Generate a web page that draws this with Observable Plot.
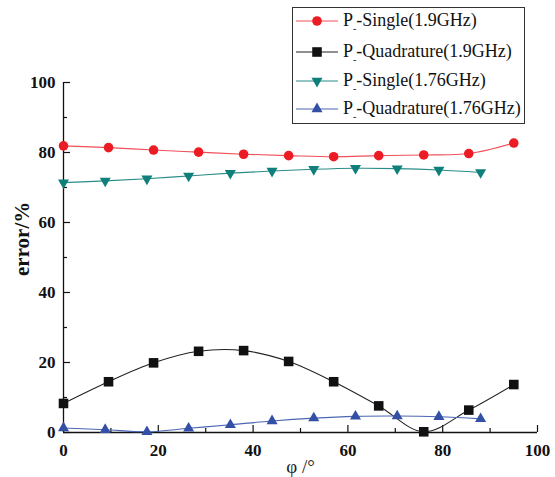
<!DOCTYPE html>
<html>
<head>
<meta charset="utf-8">
<script src="https://cdn.jsdelivr.net/npm/d3@7"></script>
<script src="https://cdn.jsdelivr.net/npm/@observablehq/plot@0.6"></script>
<style>
  html, body { margin: 0; padding: 0; background: #fff; }
  #wrap { position: relative; width: 555px; height: 477px; font-family: "Liberation Serif", "Times New Roman", serif; }
  #wrap svg text { font-family: "Liberation Serif", "Times New Roman", serif; }
  #legend { position: absolute; left: 292px; top: 7px; width: 233px; height: 117px; border: 1px solid #333; background: #fff; box-sizing: border-box; }
  .row { position: absolute; left: 0; height: 24px; display: flex; align-items: center; }
  .row svg { display: block; }
  .lab { font-size: 18px; color: #111; margin-left: 4px; white-space: nowrap; line-height: 24px; }
  .sub { font-size: 10px; position: relative; top: 6px; }
</style>
</head>
<body>
<div id="wrap"></div>
<script>
// ---- data ----
const phiA = [0, 9.5, 19, 28.5, 38, 47.5, 57, 66.5, 76, 85.5, 95];
const singleA = [81.9, 81.4, 80.7, 80.1, 79.5, 79.1, 78.8, 79.1, 79.3, 79.7, 82.7];
const quadA = [8.3, 14.5, 19.9, 23.2, 23.4, 20.3, 14.5, 7.6, 0.2, 6.4, 13.7];
const phiB = [0, 8.8, 17.6, 26.4, 35.2, 44, 52.8, 61.6, 70.4, 79.2, 88];
const singleB = [71.4, 71.9, 72.5, 73.3, 74.1, 74.7, 75.2, 75.5, 75.4, 75.0, 74.3];
const quadB = [1.3, 0.8, 0.2, 1.2, 2.2, 3.3, 4.1, 4.6, 4.7, 4.5, 3.9];

const xTicks = [0, 20, 40, 60, 80, 100];
const xMinor = [10, 30, 50, 70, 90];
const yTicks = [0, 20, 40, 60, 80, 100];
const yMinor = [10, 30, 50, 70, 90];

const seriesNames = [
  "-Single(1.9GHz)",
  "-Quadrature(1.9GHz)",
  "-Single(1.76GHz)",
  "-Quadrature(1.76GHz)"
];
const colors = ["#ec1c24", "#111111", "#0e7f7a", "#3350a6"];
const lineColors = ["#f0505a", "#222222", "#2a8c88", "#4a66b4"];
const symbols = ["circle", "square", "triangle", "triangle"];
const rotations = [0, 0, 180, 0];
const radii = [4.8, 5.4, 4.1, 4.1];

const series = [
  phiA.map((x, i) => ({x, y: singleA[i]})),
  phiA.map((x, i) => ({x, y: quadA[i]})),
  phiB.map((x, i) => ({x, y: singleB[i]})),
  phiB.map((x, i) => ({x, y: quadB[i]}))
];

const font = '"Liberation Serif", "Times New Roman", serif';
const W = 555, H = 477, ML = 63, MR = 18, MT = 82, MB = 45;
const FW = W - ML - MR, FH = H - MT - MB;

const marks = [
  Plot.ruleX([0], {stroke: "#111", strokeWidth: 1.3}),
  Plot.ruleY([0], {stroke: "#111", strokeWidth: 1.3}),
  // inward tick marks
  Plot.tickY(yTicks, {y: d => d, insetRight: FW - 7, stroke: "#111", strokeWidth: 1.2}),
  Plot.tickY(yMinor, {y: d => d, insetRight: FW - 4, stroke: "#111", strokeWidth: 1.2}),
  Plot.tickX(xTicks, {x: d => d, insetTop: FH - 7, stroke: "#111", strokeWidth: 1.2}),
  Plot.tickX(xMinor, {x: d => d, insetTop: FH - 4, stroke: "#111", strokeWidth: 1.2}),
  Plot.axisY({ticks: yTicks, tickSize: 0, tickPadding: 8, fontSize: 17, fontWeight: "bold", fontFamily: font, label: null, tickFormat: d => d, fill: "#111"}),
  Plot.axisX({ticks: xTicks, tickSize: 0, tickPadding: 11, fontSize: 17, fontWeight: "bold", fontFamily: font, label: null, tickFormat: d => d, fill: "#111"}),
  Plot.text(["error/%"], {frameAnchor: "left", rotate: -90, dx: -41.5, dy: 18.5, fontSize: 21, fontWeight: "bold", fontFamily: font, fill: "#111"}),
  Plot.text(["φ /°"], {frameAnchor: "bottom", lineAnchor: "middle", dy: 34, fontSize: 19, fontFamily: font, fill: "#222"})
];
series.forEach((data, k) => {
  marks.push(Plot.line(data, {x: "x", y: "y", curve: "catmull-rom", stroke: lineColors[k], strokeWidth: 1.1}));
});
series.forEach((data, k) => {
  marks.push(Plot.dot(data, {x: "x", y: "y", symbol: symbols[k], r: radii[k], rotate: rotations[k], fill: colors[k], stroke: "none"}));
});

const chart = Plot.plot({
  width: W,
  height: H,
  marginLeft: ML,
  marginRight: MR,
  marginTop: MT,
  marginBottom: MB,
  x: {domain: [0, 100]},
  y: {domain: [0, 100]},
  style: {fontFamily: font, background: "white", color: "#111"},
  marks
});
const wrap = document.getElementById("wrap");
wrap.appendChild(chart);

// ---- legend ----
const legend = document.createElement("div");
legend.id = "legend";
const rowCenters = [13, 44, 73, 101];
const symMap = {circle: d3.symbolCircle, square: d3.symbolSquare, triangle: d3.symbolTriangle};
seriesNames.forEach((name, k) => {
  const row = document.createElement("div");
  row.className = "row";
  row.style.top = (rowCenters[k] - 12) + "px";
  const svg = d3.create("svg").attr("width", 46).attr("height", 24);
  svg.append("line").attr("x1", 3).attr("x2", 45).attr("y1", 12).attr("y2", 12)
    .attr("stroke", lineColors[k]).attr("stroke-width", 1.2);
  const r = radii[k];
  svg.append("path")
    .attr("d", d3.symbol(symMap[symbols[k]], Math.PI * r * r)())
    .attr("transform", `translate(24,12) rotate(${rotations[k]})`)
    .attr("fill", colors[k]);
  row.appendChild(svg.node());
  const lab = document.createElement("span");
  lab.className = "lab";
  lab.innerHTML = 'P<span class="sub">-</span>' + name;
  row.appendChild(lab);
  legend.appendChild(row);
});
wrap.appendChild(legend);
</script>
</body>
</html>
